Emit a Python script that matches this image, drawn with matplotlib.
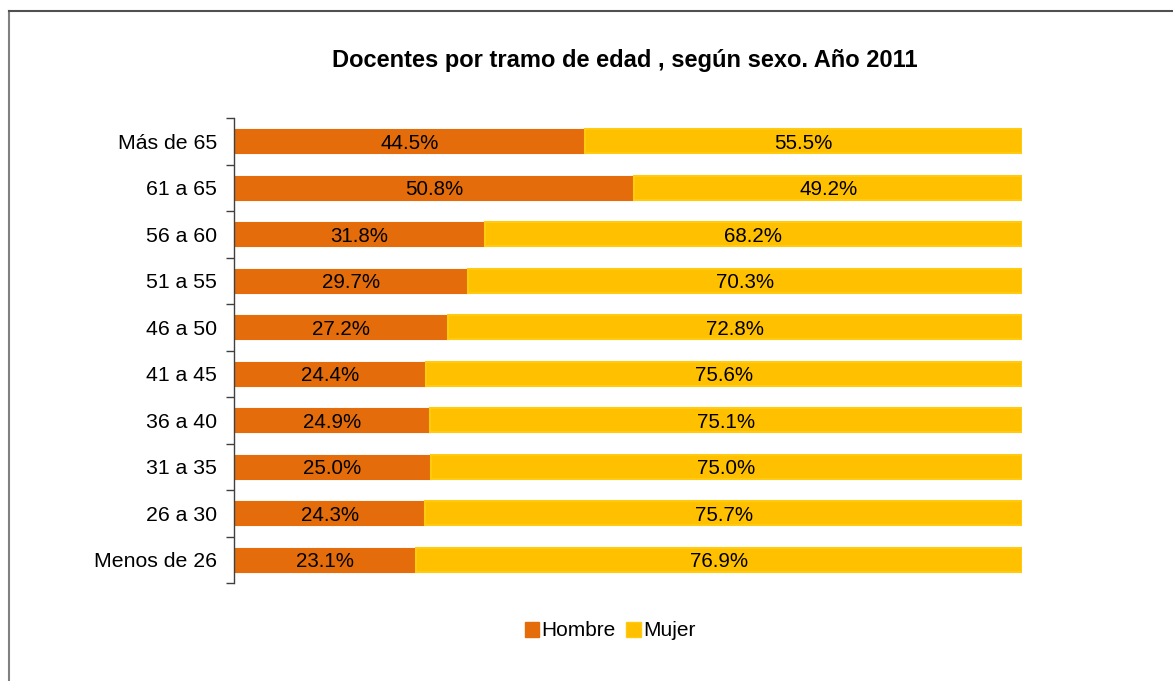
import matplotlib
matplotlib.use("Agg")
import matplotlib.pyplot as plt
from matplotlib.lines import Line2D
from matplotlib.patches import Patch

plt.rcParams["font.family"] = ["Liberation Sans", "DejaVu Sans"]

# Data (bottom to top)
categories = ["Menos de 26", "26 a 30", "31 a 35", "36 a 40", "41 a 45",
              "46 a 50", "51 a 55", "56 a 60", "61 a 65", "Más de 65"]
hombre = [23.1, 24.3, 25.0, 24.9, 24.4, 27.2, 29.7, 31.8, 50.8, 44.5]
mujer = [76.9, 75.7, 75.0, 75.1, 75.6, 72.8, 70.3, 68.2, 49.2, 55.5]
series_names = ["Hombre", "Mujer"]
title = "Docentes por tramo de edad , según sexo. Año 2011"

ORANGE = "#E46C0A"
YELLOW = "#FFC000"
YELLOW_EDGE = "#FFCA10"

W, H = 1173, 681
fig = plt.figure(figsize=(W / 100, H / 100), dpi=100)

# Frame lines (left and top only, as in the reference crop)
fig.add_artist(Line2D([9 / W, 9 / W], [0, 1 - 11 / H], color="#808080", lw=1.5,
                      transform=fig.transFigure))
fig.add_artist(Line2D([9 / W, 1], [1 - 11 / H, 1 - 11 / H], color="#505050", lw=1.5,
                      transform=fig.transFigure))

ax = fig.add_axes([234 / W, 1 - 583 / H, (1022 - 234) / W, (583 - 118) / H])

y = list(range(len(categories)))
bar_h = 0.52
ax.barh(y, hombre, height=bar_h, color=ORANGE, edgecolor=ORANGE, linewidth=0.8)
ax.barh(y, mujer, left=hombre, height=bar_h, color=YELLOW, edgecolor=YELLOW_EDGE,
        linewidth=1.5)

# Value labels centered in each segment
for i in y:
    ax.text(hombre[i] / 2, i, f"{hombre[i]:.1f}%", ha="center", va="center_baseline",
            fontsize=14.8, color="black")
    ax.text(hombre[i] + mujer[i] / 2, i, f"{mujer[i]:.1f}%", ha="center",
            va="center_baseline", fontsize=14.8, color="black")

ax.set_xlim(0, 100)
ax.set_ylim(-0.5, len(categories) - 0.5)
ax.set_xticks([])
ax.set_yticks(y)
ax.set_yticklabels(categories, fontsize=15.3)
ax.set_yticks([i - 0.5 for i in range(len(categories) + 1)], minor=True)
ax.tick_params(axis="y", which="major", length=0, pad=12)
ax.tick_params(axis="y", which="minor", length=6, color="#404040", width=1)
for s in ["top", "right", "bottom"]:
    ax.spines[s].set_visible(False)
ax.spines["left"].set_color("#404040")
ax.spines["left"].set_linewidth(1)

fig.text(625 / W, 1 - 60 / H, title, ha="center", va="center",
         fontsize=17, fontweight="bold")

handles = [Patch(facecolor=ORANGE, edgecolor=ORANGE),
           Patch(facecolor=YELLOW, edgecolor=YELLOW_EDGE)]
fig.legend(handles, series_names, loc="center", bbox_to_anchor=(610 / W, 1 - 631 / H),
           ncol=2, frameon=False, fontsize=15, handlelength=0.7, handleheight=0.7,
           handletextpad=0.1, columnspacing=0.5)

fig.savefig("out.png", dpi=100)
